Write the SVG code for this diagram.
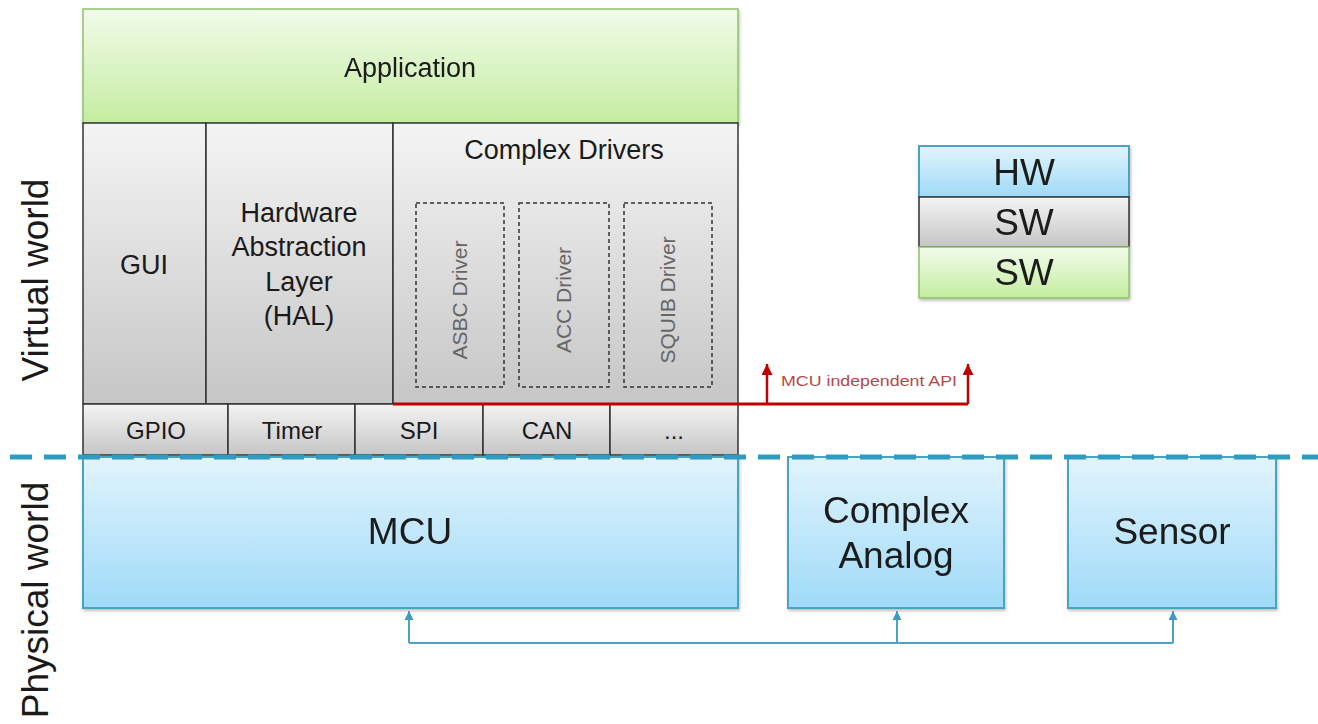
<svg xmlns="http://www.w3.org/2000/svg" width="1318" height="724" viewBox="0 0 1318 724">
<defs>
<linearGradient id="gGreen" x1="0" y1="0" x2="0" y2="1"><stop offset="0" stop-color="#f2fbeb"/><stop offset="1" stop-color="#c4eda0"/></linearGradient>
<linearGradient id="gGray" x1="0" y1="0" x2="0" y2="1"><stop offset="0" stop-color="#f4f4f4"/><stop offset="1" stop-color="#c6c6c6"/></linearGradient>
<linearGradient id="gBlue" x1="0" y1="0" x2="0" y2="1"><stop offset="0" stop-color="#e2f4fd"/><stop offset="1" stop-color="#9fdaf8"/></linearGradient>
<filter id="sh" x="-5%" y="-5%" width="110%" height="115%"><feDropShadow dx="1" dy="2" stdDeviation="1.5" flood-color="#000" flood-opacity="0.25"/></filter>
<marker id="arB" viewBox="0 0 10 10" refX="5" refY="0" markerWidth="9" markerHeight="12" orient="0" markerUnits="userSpaceOnUse"><path d="M0,10 L5,0 L10,10 z" fill="#3f9bbd"/></marker>
<marker id="arR" viewBox="0 0 10 10" refX="5" refY="0" markerWidth="11" markerHeight="13" orient="0" markerUnits="userSpaceOnUse"><path d="M0,10 L5,0 L10,10 z" fill="#c00000"/></marker>
<style>
text{font-family:"Liberation Sans",Arial,sans-serif;fill:#1a1a1a;text-anchor:middle}
.green{fill:url(#gGreen);stroke:#8dc26a;stroke-width:1.5}
.gray{fill:url(#gGray);stroke:#333;stroke-width:1.5}
.blue{fill:url(#gBlue);stroke:#4aa3c2;stroke-width:2}
.dash{fill:none;stroke:#333;stroke-width:1.5;stroke-dasharray:4 3}
.drv{font-size:21px;fill:#666}
.big{font-size:37px}
.mid{font-size:27px}
.small{font-size:24px}
</style>
</defs>

<g id="labels">
<text class="big" transform="translate(48,280) rotate(-90)">Virtual world</text>
<text class="big" transform="translate(48,600) rotate(-90)">Physical world</text>
</g>

<g id="application" filter="url(#sh)">
<rect class="green" x="83" y="9" width="655" height="114"/>
<text class="mid" x="410" y="77">Application</text>
</g>

<g id="gui">
<rect class="gray" x="83" y="123" width="123" height="281"/>
<text class="mid" x="144" y="274">GUI</text>
</g>

<g id="hal">
<rect class="gray" x="206" y="123" width="187" height="281"/>
<text class="mid" x="299" y="222">Hardware</text>
<text class="mid" x="299" y="256">Abstraction</text>
<text class="mid" x="299" y="291">Layer</text>
<text class="mid" x="299" y="325">(HAL)</text>
</g>

<g id="complex-drivers">
<rect class="gray" x="393" y="123" width="345" height="281"/>
<text class="mid" x="564" y="159">Complex Drivers</text>
</g>

<g id="asbc-driver">
<rect class="dash" x="416" y="203" width="88" height="184"/>
<text class="drv" transform="translate(467,300) rotate(-90)">ASBC Driver</text>
</g>
<g id="acc-driver">
<rect class="dash" x="519" y="203" width="90" height="184"/>
<text class="drv" transform="translate(571,300) rotate(-90)">ACC Driver</text>
</g>
<g id="squib-driver">
<rect class="dash" x="624" y="203" width="88" height="184"/>
<text class="drv" transform="translate(675,300) rotate(-90)">SQUIB Driver</text>
</g>

<g id="gpio"><rect class="gray" x="83" y="404" width="145" height="51"/><text class="small" x="156" y="439">GPIO</text></g>
<g id="timer"><rect class="gray" x="228" y="404" width="127" height="51"/><text class="small" x="292" y="439">Timer</text></g>
<g id="spi"><rect class="gray" x="355" y="404" width="128" height="51"/><text class="small" x="419" y="439">SPI</text></g>
<g id="can"><rect class="gray" x="483" y="404" width="127" height="51"/><text class="small" x="547" y="439">CAN</text></g>
<g id="more"><rect class="gray" x="610" y="404" width="128" height="51"/><text class="small" x="674" y="439">...</text></g>

<g id="mcu" filter="url(#sh)">
<rect class="blue" x="83" y="457" width="655" height="151"/>
<text class="big" x="410" y="544">MCU</text>
</g>
<g id="complex-analog" filter="url(#sh)">
<rect class="blue" x="788" y="457" width="216" height="151"/>
<text class="big" x="896" y="523">Complex</text>
<text class="big" x="896" y="568">Analog</text>
</g>
<g id="sensor" filter="url(#sh)">
<rect class="blue" x="1068" y="457" width="208" height="151"/>
<text class="big" x="1172" y="544">Sensor</text>
</g>

<g id="legend" filter="url(#sh)">
<rect class="blue" x="919" y="146" width="210" height="51"/>
<text class="big" x="1024" y="185">HW</text>
<rect class="gray" x="919" y="197" width="210" height="50"/>
<text class="big" x="1024" y="235">SW</text>
<rect class="green" x="919" y="247" width="210" height="51"/>
<text class="big" x="1024" y="285">SW</text>
</g>

<g id="connectors">
<line x1="10" y1="457" x2="1318" y2="457" stroke="#2e9cc0" stroke-width="5" stroke-dasharray="22 12"/>
<polyline points="393,404 968,404" fill="none" stroke="#c00000" stroke-width="3"/>
<line x1="767" y1="404" x2="767" y2="364" stroke="#c00000" stroke-width="2.5" marker-end="url(#arR)"/>
<line x1="968" y1="404" x2="968" y2="364" stroke="#c00000" stroke-width="2.5" marker-end="url(#arR)"/>
<text x="869" y="386" style="font-size:14px;fill:#b54848" textLength="176" lengthAdjust="spacingAndGlyphs">MCU independent  API</text>
<polyline points="409,643 1173,643" fill="none" stroke="#4aa3c2" stroke-width="2"/>
<line x1="409" y1="643" x2="409" y2="611" stroke="#4aa3c2" stroke-width="2" marker-end="url(#arB)"/>
<line x1="897" y1="643" x2="897" y2="611" stroke="#4aa3c2" stroke-width="2" marker-end="url(#arB)"/>
<line x1="1173" y1="643" x2="1173" y2="611" stroke="#4aa3c2" stroke-width="2" marker-end="url(#arB)"/>
</g>
</svg>
